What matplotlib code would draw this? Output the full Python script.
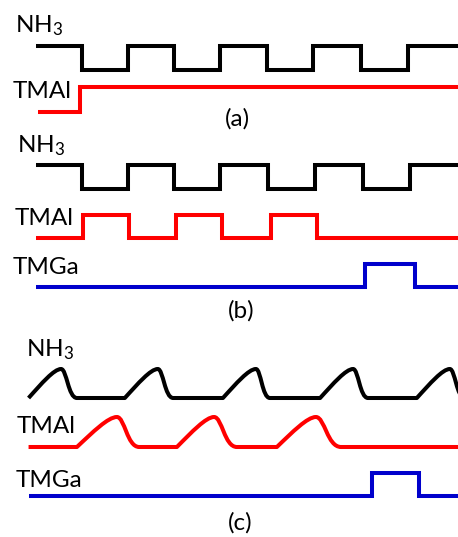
import matplotlib
matplotlib.use("Agg")
import matplotlib.pyplot as plt
from matplotlib.path import Path
from matplotlib.patches import PathPatch

# ==========================
# fonts
# ==========================
plt.rcParams["font.family"] = ["Lato", "DejaVu Sans"]
plt.rcParams["mathtext.fontset"] = "custom"
plt.rcParams["mathtext.rm"] = "Lato"
plt.rcParams["mathtext.it"] = "Lato:italic"

# ==========================
# data (time in units of one NH3 half-period)
# ==========================
T_START = 0.0
T_END = 9.3
C_START = -0.16

# (a) square-wave switching times, first state
A_NH3_EDGES = [0.99, 1.98, 2.97, 3.96, 4.97, 5.96, 6.99, 8.0]
A_NH3_FIRST = 1
A_TMAL_EDGES = [0.95]
A_TMAL_FIRST = 0

# (b)
B_NH3_EDGES = [0.99, 1.98, 2.97, 3.96, 4.99, 5.99, 7.03, 8.04]
B_NH3_FIRST = 1
B_TMAL_EDGES = [1.01, 2.0, 3.01, 4.0, 5.05, 6.04]
B_TMAL_FIRST = 0
B_TMGA_EDGES = [7.07, 8.15]
B_TMGA_FIRST = 0

# (c) smooth pulses: rise start, peak, end of decay
C_NH3_RISE = [-0.16, 1.91, 4.02, 6.11, 8.19]
C_NH3_PEAK = [0.54, 2.62, 4.73, 6.82, 8.90]
C_NH3_FALL = [0.88, 2.95, 5.03, 7.14, 9.22]
C_TMAL_RISE = [0.88, 3.03, 5.18]
C_TMAL_PEAK = [1.74, 3.83, 6.02]
C_TMAL_FALL = [2.22, 4.32, 6.56]
C_TMGA_EDGES = [7.23, 8.24]
C_TMGA_FIRST = 0

LW = 2.9
BLACK = "#000000"
RED = "#ff0000"
BLUE = "#0000cc"

fig = plt.figure(figsize=(4.58, 5.37), dpi=100)
ax = fig.add_axes([0, 0, 1, 1])
ax.set_xlim(-36 / 46.5, 422 / 46.5)
ax.set_ylim(537, 0)
ax.axis("off")


def step_trace(edges, first, x0, base, amp, color):
    xs = [x0] + list(edges) + [T_END]
    states = [(first + i) % 2 for i in range(len(edges) + 1)]
    ys = states + [states[-1]]
    ax.step(xs, [base - amp * s for s in ys], where="post",
            color=color, lw=LW, solid_joinstyle="miter", solid_capstyle="butt")


def pulse_trace(rises, peaks, falls, x0, base, amp, color):
    verts = [(x0, base)]
    codes = [Path.MOVETO]
    for r, p, f in zip(rises, peaks, falls):
        w = p - r
        w2 = f - p
        verts += [(r, base),
                  (r + 0.4 * w, base - 0.5 * amp), (r + 0.78 * w, base - amp), (p, base - amp),
                  (p + 0.35 * w2, base - amp), (p + 0.45 * w2, base), (f, base)]
        codes += [Path.LINETO] + [Path.CURVE4] * 6
    verts.append((T_END, base))
    codes.append(Path.LINETO)
    ax.add_patch(PathPatch(Path(verts, codes), fill=False, edgecolor=color,
                           lw=LW, joinstyle="round", capstyle="butt"))


# (a)
step_trace(A_NH3_EDGES, A_NH3_FIRST, T_START, 70, 24, BLACK)
step_trace(A_TMAL_EDGES, A_TMAL_FIRST, T_START + 0.04, 112, 25, RED)

# (b)
step_trace(B_NH3_EDGES, B_NH3_FIRST, T_START, 189, 24, BLACK)
step_trace(B_TMAL_EDGES, B_TMAL_FIRST, T_START, 238, 23, RED)
step_trace(B_TMGA_EDGES, B_TMGA_FIRST, T_START, 287, 23, BLUE)

# (c)
pulse_trace(C_NH3_RISE, C_NH3_PEAK, C_NH3_FALL, C_START, 398, 29, BLACK)
pulse_trace(C_TMAL_RISE, C_TMAL_PEAK, C_TMAL_FALL, C_START, 447, 30, RED)
step_trace(C_TMGA_EDGES, C_TMGA_FIRST, C_START, 496, 23, BLUE)

# ==========================
# labels (pixel positions: left x, baseline y)
# ==========================
NH3 = r"NH$_\mathregular{3}$"
labels = [
    (NH3, 15, 32), ("TMAl", 13, 98),
    (NH3, 17, 152), ("TMAl", 15, 225), ("TMGa", 13, 274),
    (NH3, 26, 356), ("TMAl", 17, 433), ("TMGa", 16, 487),
]
for txt, px, py in labels:
    fig.text(px / 458, 1 - py / 537, txt, fontsize=17.5, ha="left", va="baseline")

for txt, px, py in [("(a)", 237, 126), ("(b)", 241, 318), ("(c)", 240, 530)]:
    fig.text(px / 458, 1 - py / 537, txt, fontsize=17.5, ha="center", va="baseline")

fig.savefig("out.png", dpi=100)
